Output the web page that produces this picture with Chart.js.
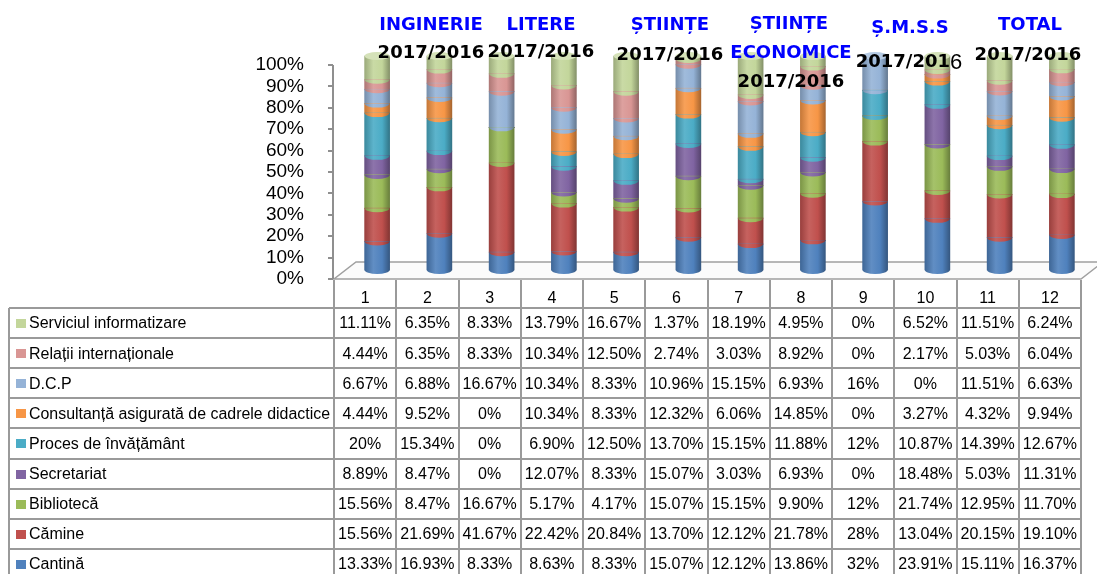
<!DOCTYPE html>
<html>
<head>
<meta charset="utf-8">
<script src="https://cdn.jsdelivr.net/npm/chart.js@4.4.1/dist/chart.umd.min.js"></script>
<style>
    html, body { margin: 0; padding: 0; background: #fff; }
    #wrap { width: 1097px; height: 574px; }
</style>
</head>
<body>
<div id="wrap"><canvas id="grafic"></canvas></div>
<script>
// coloane (categorii)
const coloane = ['1', '2', '3', '4', '5', '6', '7', '8', '9', '10', '11', '12'];

// valori in procente, de jos in sus in stiva
const cantina      = [13.33, 16.93, 8.33, 8.63, 8.33, 15.07, 12.12, 13.86, 32, 23.91, 15.11, 16.37];
const camine       = [15.56, 21.69, 41.67, 22.42, 20.84, 13.70, 12.12, 21.78, 28, 13.04, 20.15, 19.10];
const biblioteca   = [15.56, 8.47, 16.67, 5.17, 4.17, 15.07, 15.15, 9.90, 12, 21.74, 12.95, 11.70];
const secretariat  = [8.89, 8.47, 0, 12.07, 8.33, 15.07, 3.03, 6.93, 0, 18.48, 5.03, 11.31];
const proces       = [20, 15.34, 0, 6.90, 12.50, 13.70, 15.15, 11.88, 12, 10.87, 14.39, 12.67];
const consultanta  = [4.44, 9.52, 0, 10.34, 8.33, 12.32, 6.06, 14.85, 0, 3.27, 4.32, 9.94];
const dcp          = [6.67, 6.88, 16.67, 10.34, 8.33, 10.96, 15.15, 6.93, 16, 0, 11.51, 6.63];
const relatii      = [4.44, 6.35, 8.33, 10.34, 12.50, 2.74, 3.03, 8.92, 0, 2.17, 5.03, 6.04];
const serviciul    = [11.11, 6.35, 8.33, 13.79, 16.67, 1.37, 18.19, 4.95, 0, 6.52, 11.51, 6.24];

const numeSerii = ['Cantină', 'Cămine', 'Bibliotecă', 'Secretariat', 'Proces de învățământ',
    'Consultanță asigurată de cadrele didactice', 'D.C.P', 'Relații internaționale', 'Serviciul informatizare'];
const valoriSerii = [cantina, camine, biblioteca, secretariat, proces, consultanta, dcp, relatii, serviciul];
const culori = ['#4F81BD', '#C0504D', '#9BBB59', '#8064A2', '#4BACC6', '#F79646', '#95B3D7', '#D99694', '#C3D69B'];

const titluri = ['INGINERIE', 'LITERE', 'ȘTIINȚE', 'ȘTIINȚE', 'ECONOMICE', 'Ș.M.S.S', 'TOTAL'];
const anul = '2017/2016';

const BAR_W = 25;
const DX = 12, DY = -9;      // deplasare 3D a cilindrilor
const FX = 22, FY = 17;      // adancimea podelei
const RY = 4;                // raza verticala a elipselor

function hexRgb(h) {
    const n = parseInt(h.slice(1), 16);
    return [n >> 16 & 255, n >> 8 & 255, n & 255];
}
function shade(h, p) {
    const c = hexRgb(h);
    const t = p < 0 ? 0 : 255;
    const a = Math.abs(p);
    return 'rgb(' + c.map(v => Math.round(v + (t - v) * a)).join(',') + ')';
}

function cylFill(color) {
    return (c) => {
        const chart = c.chart;
        const xs = chart.scales.x;
        if (!xs || c.dataIndex === undefined) return color;
        const cx = xs.getPixelForValue(c.dataIndex);
        if (!isFinite(cx)) return color;
        const g = chart.ctx.createLinearGradient(cx - BAR_W / 2, 0, cx + BAR_W / 2, 0);
        g.addColorStop(0, shade(color, -0.2));
        g.addColorStop(0.35, shade(color, 0.1));
        g.addColorStop(0.7, color);
        g.addColorStop(1, shade(color, -0.32));
        return g;
    };
}

function fmt(v) {
    return Number.isInteger(v) ? v + '%' : v.toFixed(2) + '%';
}

// scrie textul, comprimat pe orizontala daca depaseste latimea data
function fitText(ctx, t, x, y, maxW) {
    const w = ctx.measureText(t).width;
    if (w <= maxW) {
        ctx.fillText(t, x, y);
        return;
    }
    ctx.save();
    ctx.translate(x, y);
    ctx.scale(maxW / w, 1);
    ctx.fillText(t, 0, 0);
    ctx.restore();
}

const cilindri = {
    id: 'cilindri',
    beforeDatasetsDraw(chart) {
        const ctx = chart.ctx;
        const a = chart.chartArea;
        const y0 = chart.scales.y.getPixelForValue(0);
        ctx.save();
        // podeaua 3D
        ctx.beginPath();
        ctx.moveTo(a.left, y0);
        ctx.lineTo(a.right, y0);
        ctx.lineTo(a.right + FX, y0 - FY);
        ctx.lineTo(a.left + FX, y0 - FY);
        ctx.closePath();
        ctx.fillStyle = '#fbfbfb';
        ctx.fill();
        ctx.strokeStyle = '#a0a0a0';
        ctx.lineWidth = 1.5;
        ctx.stroke();
        ctx.restore();
        ctx.save();
        ctx.translate(DX, DY);
    },
    afterDatasetsDraw(chart) {
        const ctx = chart.ctx;
        const metas = chart.getSortedVisibleDatasetMetas().slice().sort((p, q) => p.index - q.index);
        metas.forEach(meta => {
            meta.data.forEach(bar => {
                if (Math.abs(bar.base - bar.y) < 0.5) return;
                ctx.beginPath();
                ctx.ellipse(bar.x, bar.base, bar.width / 2, RY, 0, 0, Math.PI);
                ctx.fillStyle = bar.options.backgroundColor;
                ctx.fill();
            });
        });
        const n = chart.data.labels.length;
        for (let i = 0; i < n; i++) {
            let top = null, col = null;
            metas.forEach(meta => {
                const bar = meta.data[i];
                if (Math.abs(bar.base - bar.y) >= 0.5 && (top === null || bar.y < top.y)) {
                    top = bar;
                    col = culori[meta.index];
                }
            });
            if (top) {
                ctx.beginPath();
                ctx.ellipse(top.x, top.y, top.width / 2, RY, 0, 0, 2 * Math.PI);
                ctx.fillStyle = shade(col, 0.3);
                ctx.fill();
            }
        }
        ctx.restore();
    },
    afterDraw(chart) {
        const ctx = chart.ctx;
        const a = chart.chartArea;
        const ys = chart.scales.y;
        const n = coloane.length;
        const colW = (a.right - a.left) / n;
        const y0 = ys.getPixelForValue(0);
        const headBottom = y0 + 29;
        const rowH = 30.1;
        const leftX = 9;

        ctx.save();
        // axa verticala cu gradatii
        const ax = Math.round(a.left) - 1;
        ctx.strokeStyle = '#8f8f8f';
        ctx.lineWidth = 2;
        ctx.beginPath();
        ctx.moveTo(ax, ys.top);
        ctx.lineTo(ax, ys.bottom);
        ys.ticks.forEach(t => {
            const y = Math.round(ys.getPixelForValue(t.value));
            ctx.moveTo(ax - 5, y);
            ctx.lineTo(ax, y);
        });
        ctx.stroke();

        // grila tabelului
        ctx.strokeStyle = '#9a9a9a';
        ctx.beginPath();
        for (let i = 0; i <= n; i++) {
            const x = Math.round(a.left + i * colW);
            ctx.moveTo(x, y0 + 1);
            ctx.lineTo(x, 580);
        }
        ctx.moveTo(leftX, headBottom);
        ctx.lineTo(leftX, 580);
        for (let r = 0; r <= numeSerii.length; r++) {
            const y = Math.round(headBottom + r * rowH);
            ctx.moveTo(leftX, y);
            ctx.lineTo(a.right, y);
        }
        ctx.stroke();

        // antet cu numere
        ctx.fillStyle = '#000';
        ctx.textAlign = 'center';
        ctx.textBaseline = 'middle';
        ctx.font = '16px "Liberation Sans"';
        coloane.forEach((c, i) => {
            ctx.fillText(c, a.left + (i + 0.5) * colW, y0 + 20);
        });

        // randuri (de sus in jos: ultima serie prima)
        for (let r = 0; r < numeSerii.length; r++) {
            const s = numeSerii.length - 1 - r;
            const yc = headBottom + r * rowH + 16;
            ctx.fillStyle = culori[s];
            ctx.fillRect(16, Math.round(yc - 5), 10, 9);
            ctx.fillStyle = '#000';
            ctx.textAlign = 'left';
            fitText(ctx, numeSerii[s], 29, yc, a.left - 29 - 4);
            ctx.textAlign = 'center';
            valoriSerii[s].forEach((v, i) => {
                const cx = a.left + (i + 0.5) * colW;
                ctx.save();
                ctx.translate(cx, yc);
                fitText(ctx, fmt(v), 0, 0, colW - 6);
                ctx.restore();
            });
        }

        // titlurile de grup
        const pozT = [[431, 25], [541, 25], [670, 25], [789, 24], [791, 53], [910, 28], [1030, 25]];
        const pozA = [[431, 53], [541, 52], [670, 55], [791, 82], [909, 62], [1028, 55]];
        ctx.font = 'bold 18px "DejaVu Sans"';
        ctx.fillStyle = '#0000ff';
        titluri.forEach((t, i) => ctx.fillText(t, pozT[i][0], pozT[i][1]));
        ctx.fillStyle = '#000';
        pozA.forEach((p, i) => {
            if (i === 4) {
                const partea = anul.slice(0, -1);
                ctx.font = 'bold 18px "DejaVu Sans"';
                const w1 = ctx.measureText(partea).width;
                ctx.font = '22px "Liberation Sans"';
                const w2 = ctx.measureText(anul.slice(-1)).width;
                const x0 = p[0] - (w1 + w2) / 2;
                ctx.textAlign = 'left';
                ctx.font = 'bold 18px "DejaVu Sans"';
                ctx.fillText(partea, x0, p[1]);
                ctx.font = '22px "Liberation Sans"';
                ctx.fillText(anul.slice(-1), x0 + w1, p[1] + 1);
                ctx.textAlign = 'center';
                ctx.font = 'bold 18px "DejaVu Sans"';
            } else {
                ctx.fillText(anul, p[0], p[1]);
            }
        });
        ctx.restore();
    }
};

const ctx = document.getElementById('grafic').getContext('2d');

new Chart(ctx, {
    type: 'bar',
    data: {
        labels: coloane,
        datasets: numeSerii.map((nume, i) => ({
            label: nume,
            data: valoriSerii[i],
            backgroundColor: cylFill(culori[i]),
            borderWidth: 0,
            barThickness: BAR_W,
            clip: false
        }))
    },
    options: {
        responsive: true,
        maintainAspectRatio: false,
        animation: false,
        layout: {
            padding: { left: 0, top: 65, right: 16, bottom: 295 }
        },
        plugins: {
            legend: { display: false },
            tooltip: { enabled: false }
        },
        scales: {
            x: {
                stacked: true,
                display: false
            },
            y: {
                stacked: true,
                min: 0,
                max: 100,
                ticks: {
                    stepSize: 10,
                    autoSkip: false,
                    padding: 22,
                    color: '#000',
                    font: { family: 'Liberation Sans', size: 19, lineHeight: 1 },
                    callback: v => v + '%'
                },
                grid: { display: false },
                border: { display: false },
                afterFit(s) { s.width = 334; }
            }
        }
    },
    plugins: [cilindri]
});
</script>
</body>
</html>
